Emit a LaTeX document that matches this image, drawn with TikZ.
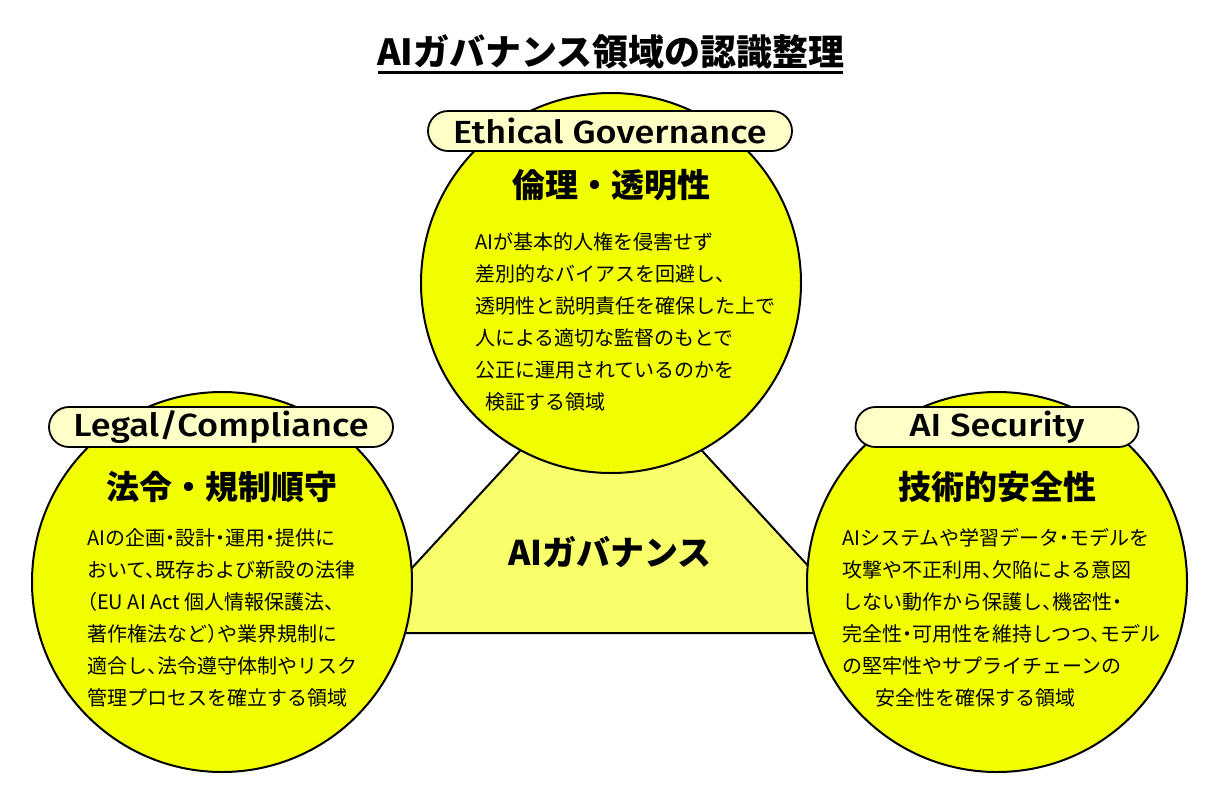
\documentclass[tikz,border=0pt]{standalone}
\usepackage{fontspec}
\setmainfont{Noto Sans CJK JP}
\newfontfamily\latin{Fira Sans}[UprightFont=* Medium,FakeStretch=1.13]
\newfontfamily\jpbody{Noto Sans CJK JP}[RawFeature={+halt}]
\usetikzlibrary{shapes.misc}
\definecolor{circY}{HTML}{F2FF00}
\definecolor{triY}{HTML}{F9FF6A}
\definecolor{pillY}{HTML}{FFFFC8}
\begin{document}
\begin{tikzpicture}[x=1pt,y=-1pt,
  circ/.style={circle,draw=black,line width=2pt,fill=circY,minimum size=380pt,inner sep=0pt},
  tri/.style={draw=black,line width=2pt,fill=triY,line join=miter},
  pill/.style={rounded rectangle,draw=black,line width=1.8pt,fill=pillY,minimum height=40pt,inner sep=0pt,font=\latin\fontsize{32}{32}\selectfont},
  head/.style={font=\bfseries\fontsize{33}{33}\selectfont,inner sep=0pt},
  body/.style={font=\jpbody\fontsize{20}{32}\selectfont,align=left,anchor=north west,inner sep=0pt},
  ]
\useasboundingbox (0,0) rectangle (1220,804);
\fill[white] (0,0) rectangle (1220,804);
% title
\node[font=\bfseries\fontsize{36}{36}\selectfont,inner sep=0pt] (title) at (611,52) {AIガバナンス領域の認識整理};
\draw[line width=3pt] (378,72) -- (843,72);
% triangle
\coordinate (tA) at (611,352);
\coordinate (tB) at (352,633);
\coordinate (tC) at (870,633);
\draw[tri] (tA) -- (tB) -- (tC) -- cycle;
\node[head,font=\bfseries\fontsize{34}{34}\selectfont] (center) at (610,552) {AIガバナンス};
% circles
\node[circ] (ctop) at (611,283) {};
\node[circ] (cleft) at (222,582) {};
\node[circ] (cright) at (997,582) {};
% pills
\node[pill,minimum width=364pt] (ptop) at (610,131) {Ethical Governance};
\node[pill,minimum width=344pt] (pleft) at (221,427) {Legal/Compliance};
\node[pill,minimum width=283pt] (pright) at (997,427) {AI Security};
% headings
\node[head] (htop) at (611,185) {倫理・透明性};
\node[head] (hleft) at (222,487) {法令・規制順守};
\node[head] (hright) at (997,487) {技術的安全性};
% bodies
\node[body] (btop) at (475,232) {AIが基本的人権を侵害せず\\差別的なバイアスを回避し、\\透明性と説明責任を確保した上で\\人による適切な監督のもとで\\公正に運用されているのかを\\\hspace*{10pt}検証する領域};
\node[body] (bleft) at (87,528) {AIの企画・設計・運用・提供に\\おいて、既存および新設の法律\\（EU AI Act 個人情報保護法、\\著作権法など）や業界規制に\\適合し、法令遵守体制やリスク\\管理プロセスを確立する領域};
\node[body] (bright) at (842,528) {AIシステムや学習データ・モデルを\\攻撃や不正利用、欠陥による意図\\しない動作から保護し、機密性・\\完全性・可用性を維持しつつ、モデル\\の堅牢性やサプライチェーンの\\\hspace*{33pt}安全性を確保する領域};
\end{tikzpicture}
\end{document}
